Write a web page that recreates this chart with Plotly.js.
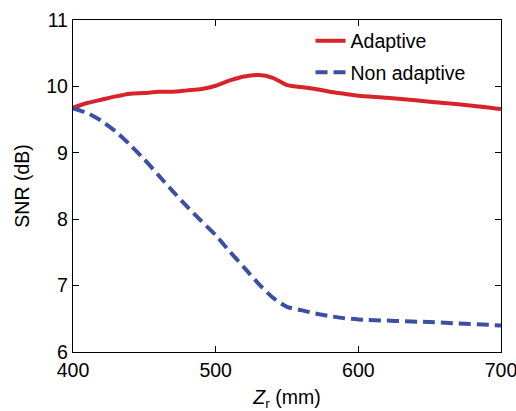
<!DOCTYPE html>
<html>
<head>
<meta charset="utf-8">
<script src="https://cdn.plot.ly/plotly-3.0.1.min.js"></script>
<style>html,body{margin:0;padding:0;background:#fff;}#chart{width:516px;height:411px;}</style>
</head>
<body>
<div id="chart"></div>
<script>
const zr = [400,410,420,430,440,450,460,470,480,490,500,510,520,530,540,550,560,570,580,590,600,620,640,660,680,700];
const adaptive = [9.68,9.75,9.80,9.85,9.89,9.90,9.92,9.92,9.94,9.96,10.01,10.09,10.15,10.17,10.13,10.02,9.99,9.96,9.92,9.89,9.86,9.83,9.79,9.75,9.71,9.66];
const zrNon = [400,410,420,430,440,450,460,470,480,490,500,510,520,530,540,550,560,570,580,590,600,650,700];
const nonAdaptive = [9.67,9.60,9.48,9.32,9.12,8.90,8.66,8.42,8.19,7.97,7.76,7.51,7.27,7.03,6.82,6.68,6.63,6.58,6.54,6.51,6.49,6.45,6.40];
const xTicks = [400,500,600,700];
const yTicks = [6,7,8,9,10,11];

const font = {family: 'Liberation Sans, Arial, Helvetica, sans-serif', size: 19.5, color: '#000'};

const traces = [
  {x: zr, y: adaptive, name: 'Adaptive', mode: 'lines', legendgroup: 'a',
   line: {color: '#d7242b', width: 4, shape: 'spline', smoothing: 0.6}},
  {x: zrNon, y: nonAdaptive, name: 'Non adaptive', mode: 'lines', legendgroup: 'b',
   line: {color: '#3a4fa5', width: 4, dash: '12px,6px', shape: 'spline', smoothing: 0.6}}
];

const axisCommon = {
  showgrid: false, zeroline: false, showline: true, mirror: 'ticks',
  linecolor: '#000', linewidth: 1.2, ticks: 'inside', ticklen: 6, tickwidth: 1.2,
  tickcolor: '#000', tickfont: font, ticklabeloverflow: 'allow'
};

const layout = {
  width: 516, height: 411,
  margin: {l: 73, r: 15, t: 20, b: 59},
  paper_bgcolor: '#fff', plot_bgcolor: '#fff',
  font: font,
  showlegend: true,
  legend: {x: 0.555, y: 0.995, xanchor: 'left', yanchor: 'top', bgcolor: 'rgba(0,0,0,0)',
           font: font, tracegroupgap: 3},
  xaxis: Object.assign({}, axisCommon, {range: [400, 700], tickvals: xTicks,
    title: {text: '<i>Z</i><sub>r</sub> (mm)', font: font, standoff: 19}}),
  yaxis: Object.assign({}, axisCommon, {range: [6, 11], tickvals: yTicks,
    title: {text: 'SNR (dB)', font: font, standoff: 11}})
};

Plotly.newPlot('chart', traces, layout, {displayModeBar: false, staticPlot: true});
</script>
</body>
</html>
